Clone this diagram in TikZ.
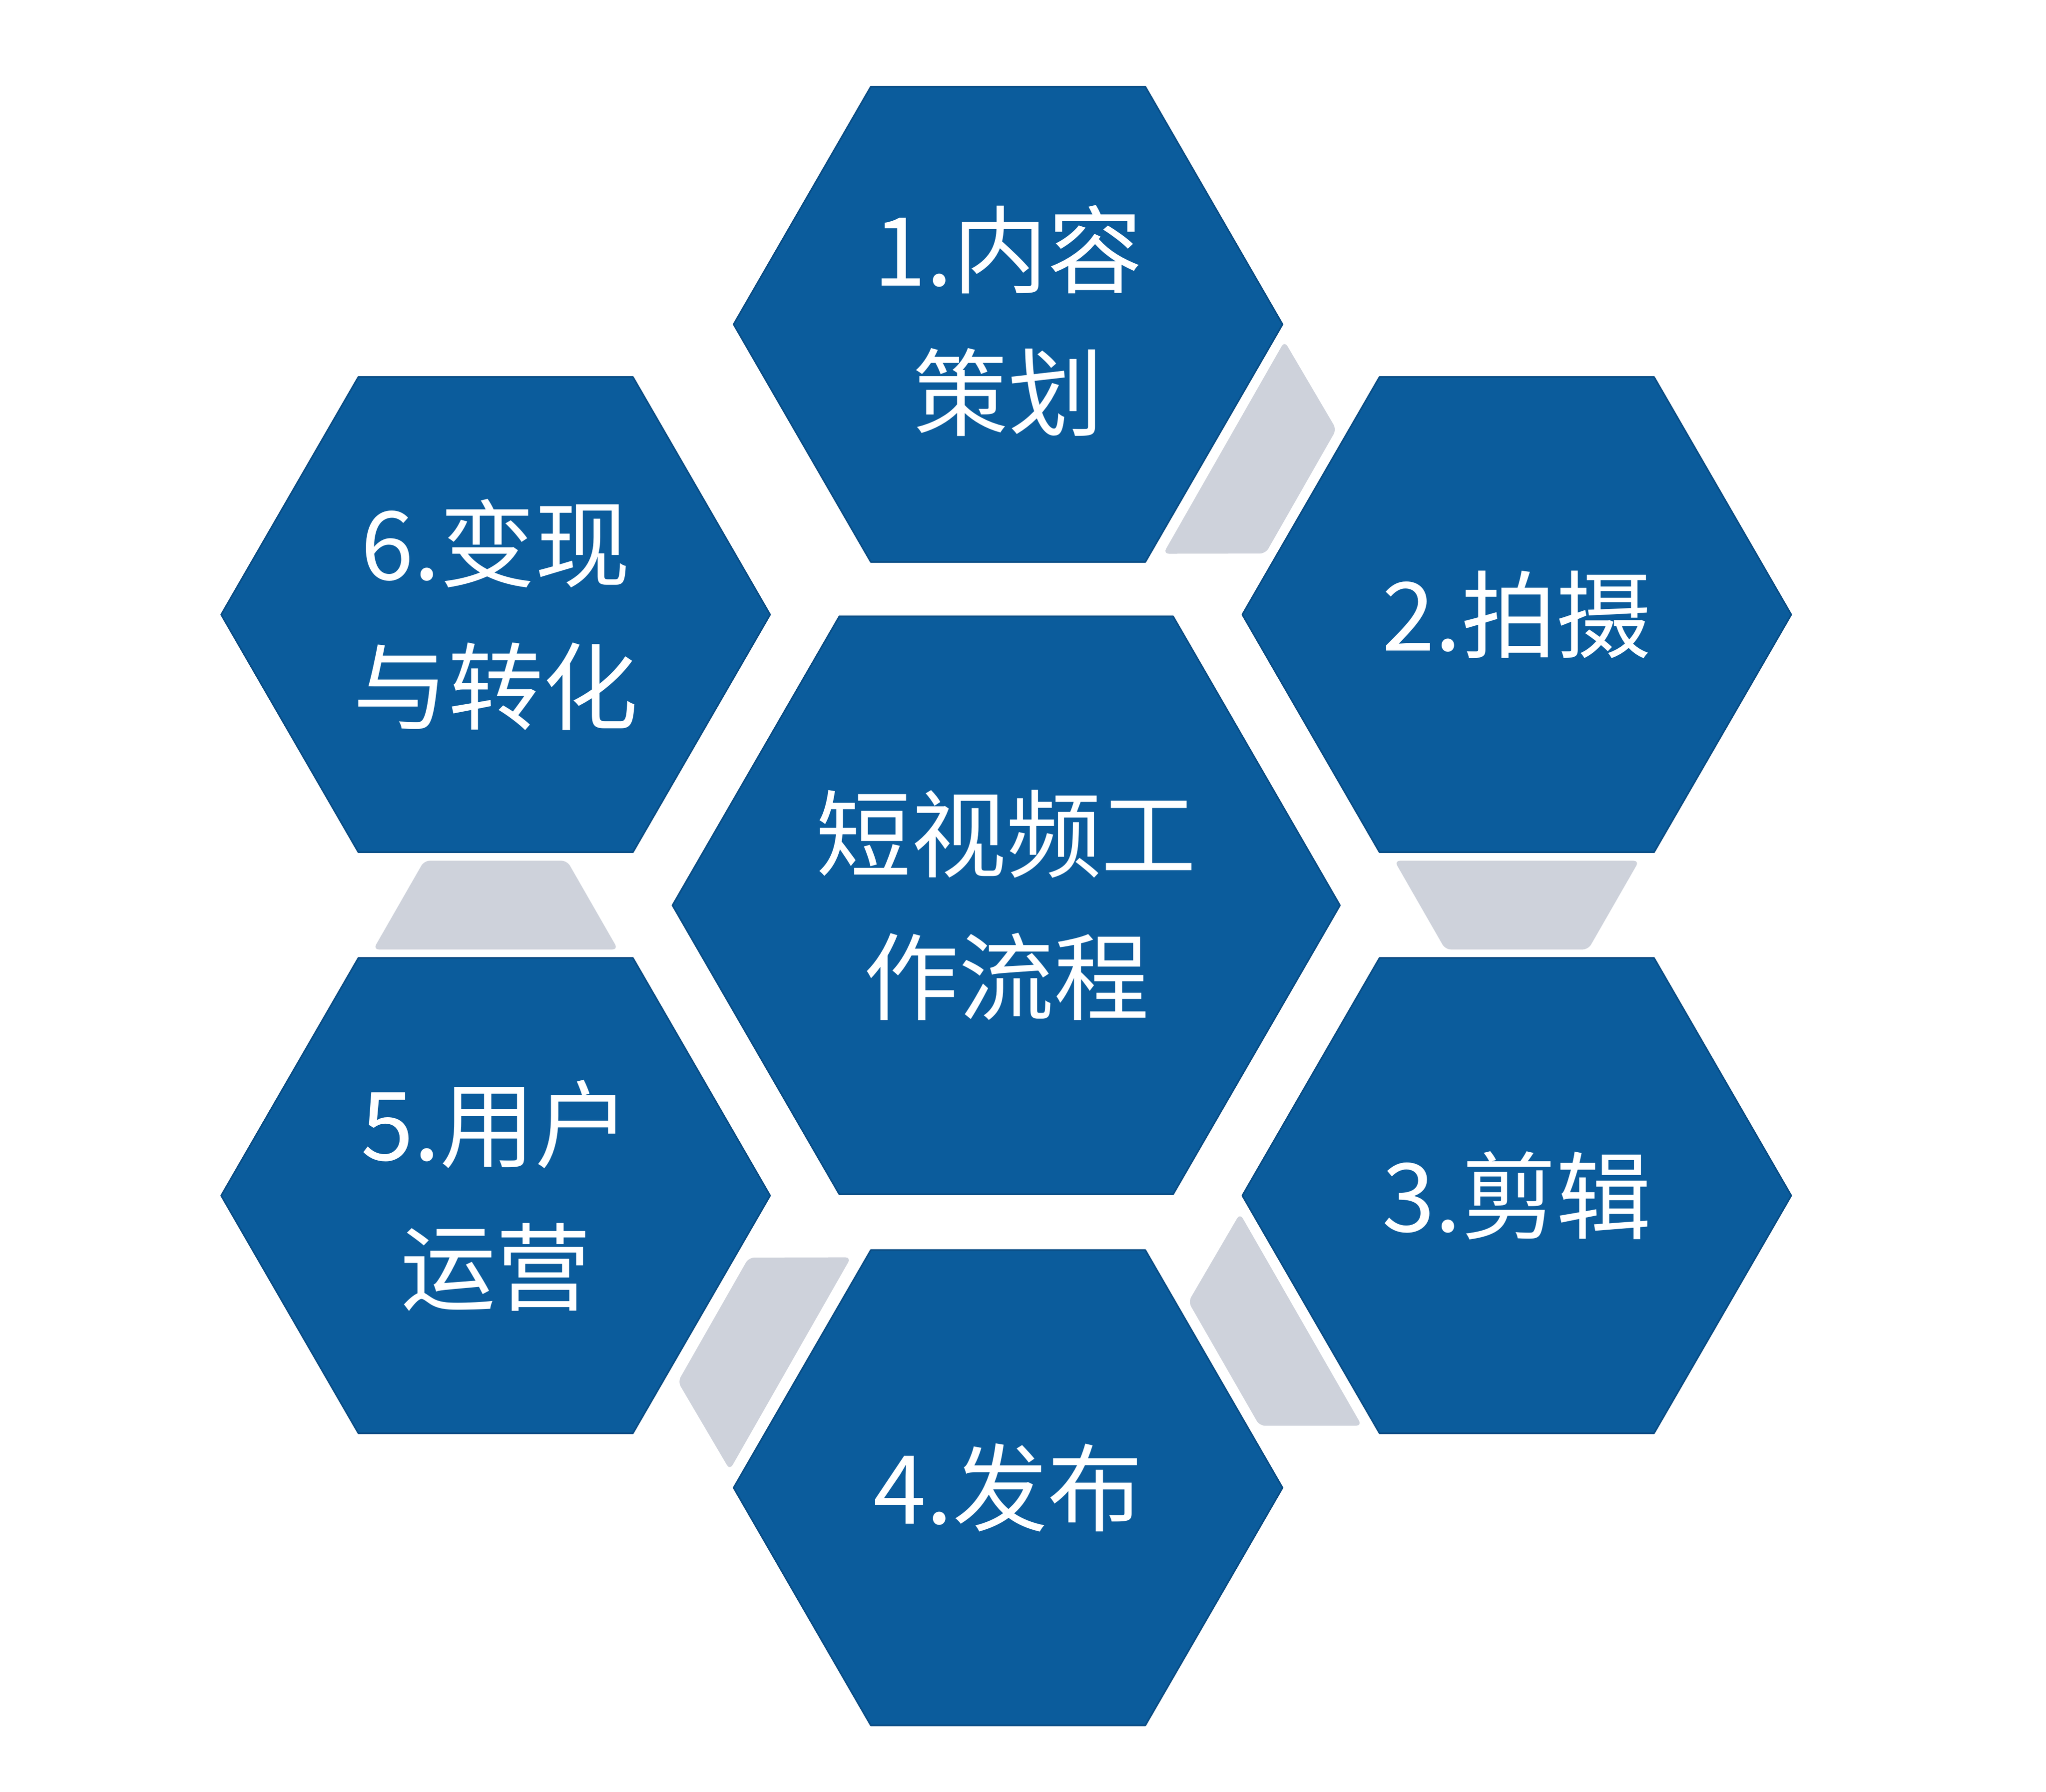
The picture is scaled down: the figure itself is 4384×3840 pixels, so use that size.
\documentclass[tikz,border=0pt]{standalone}
\usepackage{fontspec}
\newfontfamily\cjk{Noto Sans CJK SC}
\usetikzlibrary{calc}
\definecolor{hexblue}{HTML}{0B5C9C}
\definecolor{hexrim}{HTML}{0A4E86}
\definecolor{gapgray}{HTML}{CED2DB}
\tikzset{
  hexfill/.style={fill=hexblue, draw=hexrim, line width=1pt, line join=round},
  gapfill/.style={fill=gapgray, rounded corners=0.12cm},
  smalltext/.style={text=white, align=center, inner sep=0pt, font=\cjk\fontsize{58}{87}\selectfont},
  bigtext/.style={text=white, align=center, inner sep=0pt, font=\cjk\fontsize{58}{87}\selectfont},
}
\begin{document}
\begin{tikzpicture}[x=0.01cm,y=-0.01cm]
\fill[white] (0,0) rectangle (4384,3840);
\useasboundingbox (0,0) rectangle (4384,3840);
\coordinate (c0) at (2156,1940);
\coordinate (c1) at (2160,695);
\coordinate (c2) at (3250,1317);
\coordinate (c3) at (3250,2562);
\coordinate (c4) at (2160,3188);
\coordinate (c5) at (1062,2562);
\coordinate (c6) at (1062,1317);
% grey links between neighbouring steps
\foreach \a/\b in {c1/c2,c2/c3,c3/c4,c4/c5,c5/c6}{
  \coordinate (m) at ($(\a)!0.5!(\b)$);
  \coordinate (p) at ($(m)!0.95cm!(\a)$);
  \coordinate (q) at ($(m)!0.95cm!(\b)$);
  \fill[gapfill] ($(p)!2.62cm!90:(\a)$) -- ($(p)!2.62cm!-90:(\a)$)
     -- ($(q)!1.53cm!90:(\b)$) -- ($(q)!1.53cm!-90:(\b)$) -- cycle;
}
% hexagons
\foreach \n/\r in {c0/715,c1/588,c2/588,c3/588,c4/588,c5/588,c6/588}{
  \draw[hexfill] (\n) +(0:\r) -- +(60:\r) -- +(120:\r) -- +(180:\r)
     -- +(240:\r) -- +(300:\r) -- cycle;
}
\node[bigtext] (t0) at (c0) {短视频工\\作流程};
\node[smalltext] (t1) at ($(c1)+(0,-8)$) {1.内容\\策划};
\node[smalltext] (t2) at (c2) {2.拍摄};
\node[smalltext] (t3) at (c3) {3.剪辑};
\node[smalltext] (t4) at (c4) {4.发布};
\node[smalltext] (t5) at (c5) {5.用户\\运营};
\node[smalltext] (t6) at (c6) {6.变现\\与转化};
\end{tikzpicture}
\end{document}
